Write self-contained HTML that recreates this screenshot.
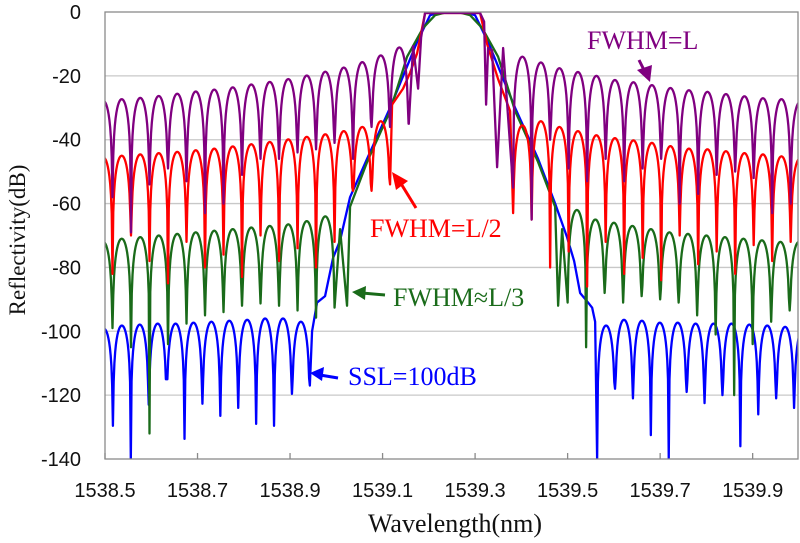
<!DOCTYPE html>
<html><head><meta charset="utf-8">
<style>
html,body{margin:0;padding:0;background:#fff;}
svg{display:block;}
.tick{font-family:"Liberation Sans",sans-serif;font-size:20px;fill:#111;}
.ann{font-family:"Liberation Serif",serif;font-size:26px;}
.ttl{font-family:"Liberation Serif",serif;}
</style></head>
<body>
<svg id="chart" width="800" height="543" viewBox="0 0 800 543" xmlns="http://www.w3.org/2000/svg">
<defs><clipPath id="plotclip"><rect x="105" y="12" width="693" height="447"/></clipPath></defs>
<g id="grid"></g>
<g id="series" clip-path="url(#plotclip)"></g>
<rect x="105" y="12" width="693" height="447" fill="none" stroke="#8a8a8a" stroke-width="1.3"/>
<g id="axes"></g>
<text class="ttl" font-size="23" x="0" y="0" transform="translate(25,240) rotate(-90)" text-anchor="middle" fill="#111">Reflectivity(dB)</text>
<text class="ttl" font-size="26" x="455" y="532" text-anchor="middle" fill="#111">Wavelength(nm)</text>

<g>
<text class="ann" x="587" y="49" fill="#800080">FWHM=L</text>
<line x1="639" y1="60" x2="645" y2="72" stroke="#800080" stroke-width="3"/>
<polygon points="637,70 652,65 650,82" fill="#800080"/>
</g>
<g>
<text class="ann" x="370" y="237" fill="#ff0000">FWHM=L/2</text>
<line x1="416" y1="208" x2="400" y2="182" stroke="#ff0000" stroke-width="3"/>
<polygon points="392,172 396,190 408,181" fill="#ff0000"/>
</g>
<g>
<text class="ann" x="393" y="306" fill="#1a6b1a">FWHM≈L/3</text>
<line x1="385" y1="295" x2="362" y2="293" stroke="#1a6b1a" stroke-width="3"/>
<polygon points="352,292 366,286 365,300" fill="#1a6b1a"/>
</g>
<g>
<text class="ann" x="348" y="385" fill="#0000ff">SSL=100dB</text>
<line x1="338" y1="378" x2="320" y2="375" stroke="#0000ff" stroke-width="3"/>
<polygon points="310,373 324,367 322,381" fill="#0000ff"/>
</g>
</svg>
<script>
// axis domains
const xMin = 1538.5, xMax = 1539.998;
const yMin = -140, yMax = 0;
const xTickLabels = ["1538.5","1538.7","1538.9","1539.1","1539.3","1539.5","1539.7","1539.9"];
const yTickLabels = [0,-20,-40,-60,-80,-100,-120,-140];

// FWHM=L (purple)
const purpleLeftStart = 1538.4762, purplePeriod = 0.04;
const purpleLeftPeaks = [-27.8,-27.3,-26.9,-26.3,-25.6,-24.9,-24.3,-23.6,-22.7,-21.9,-21,-19.9,-18.7,-17.4,-15.7,-13.6,-11.1];
const purpleLeftNulls = [-60,-58,-69,-54,-49,-53,-63,-60,-51,-46,-46,-44,-43,-41,-46,-36,-36,-35];
const purpleMainWl = [1539.1567,1539.166,1539.1768,1539.1833,1539.1919,1539.3108,1539.3195,1539.3238,1539.3281,1539.3368,1539.3476,1539.3606,1539.3822];
const purpleMainDb = [-35,-10.7,-24,-8,-0.3,-0.3,-3,-29,-11.3,-12,-48.6,-11.3,-55];
const purpleRightStart = 1539.3822;
const purpleRightPeaks = [-14,-15.8,-17.6,-18.8,-20,-21.3,-22,-22.9,-23.8,-24.5,-25,-25.7,-26.4,-27,-27.3,-28.2];
const purpleRightNulls = [-55,-65,-40,-49,-53,-46,-53,-49,-46,-60,-57,-51,-50,-52,-63,-60,-55];

// FWHM=L/2 (red)
const redLeftStart = 1538.4762, redPeriod = 0.04;
const redLeftPeaks = [-45.5,-45,-44.6,-44.2,-43.8,-43.3,-42.8,-42.1,-41.4,-40.7,-39.9,-39.1,-38.3,-37.3,-36,-34.2];
const redLeftNulls = [-75,-82,-70,-78,-85,-72,-80,-76,-83,-70,-78,-74,-80,-72,-56,-56,-54];
const redMainWl = [1539.1162,1539.1206,1539.1443,1539.1595,1539.1746,1539.1919,1539.3108,1539.3259,1539.3497,1539.3757,1539.3822];
const redMainDb = [-54,-29,-24,-19,-13,-0.3,-0.3,-10,-21,-31,-63];
const redRightStart = 1539.3822;
const redRightPeaks = [-35.5,-34.2,-36,-37.3,-38.6,-39.5,-40.2,-41,-42,-42.8,-43,-43.6,-44.2,-44.6,-45.2,-45.9];
const redRightNulls = [-63,-65,-80,-75,-86,-72,-82,-77,-84,-70,-79,-75,-82,-73,-78,-72,-80];

// FWHM≈L/3 (green)
const greenLeftStart = 1538.4762, greenPeriod = 0.04;
const greenLeftPeaks = [-72,-71,-70.5,-70,-69.5,-69,-68.5,-68,-67.5,-67,-66.5,-65.5,-64];
const greenLeftNulls = [-95.7,-99,-105,-132,-104,-97.6,-95,-94,-92,-91.3,-92,-93.5,-95.7,-92.6];
const greenMainWl = [1538.9962,1539.0081,1539.0232,1539.0297,1539.0665,1539.1162,1539.153,1539.1876,1539.2135,1539.2351,1539.2676,1539.2892,1539.3151,1539.3497,1539.3865,1539.4362,1539.473,1539.4795,1539.4881,1539.5];
const greenMainDb = [-92.6,-68,-92,-61,-47,-31,-14,-5,-1,-0.2,-0.2,-1,-5,-14,-31,-47,-61,-92,-68,-91];
const greenRightStart = 1539.5;
const greenRightPeaks = [-62,-65,-66,-67,-68,-69,-69.5,-70,-70.5,-71,-71.5,-72,-72];
const greenRightNulls = [-91,-105,-88,-91,-89,-90,-91,-95,-101,-120,-104,-97,-93.5,-95];

// SSL=100dB (blue)
const blueLeftStart = 1538.4784, bluePeriod = 0.0387;
const blueLeftPeaks = [-99.2,-98.2,-97.9,-97.6,-97.6,-97.3,-97,-96.7,-96.4,-96,-96,-97];
const blueLeftNulls = [-120,-129.6,-140.6,-123,-115,-133.7,-122.7,-126.5,-124,-129,-129.6,-119.6,-117];
const blueMainWl = [1538.9428,1538.9476,1538.9584,1538.9757,1538.993,1539.0081,1539.0297,1539.0665,1539.1162,1539.1746,1539.2027,1539.2243,1539.2784,1539.3,1539.3281,1539.3865,1539.4362,1539.473,1539.4989,1539.5141,1539.527,1539.5443,1539.553,1539.5595,1539.5638];
const blueMainDb = [-117,-100,-91,-89,-77,-71.6,-58,-46,-30,-9.4,-1,-0.2,-0.2,-1,-9.4,-30,-46,-60,-70.6,-78,-88,-91,-92.6,-97,-140];
const blueRightStart = 1539.5638;
const blueRightPeaks = [-98.2,-96.4,-96.7,-97.3,-97.3,-97.6,-97.6,-97.6,-97.9,-98.2,-98.6,-99.2];
const blueRightNulls = [-140,-118,-121,-132.5,-140,-119,-122.5,-120,-136,-126,-121,-124,-122];

const PL = 105, PR = 798, PT = 12, PB = 459;
function xs(w){ return PL + (w - xMin) / (xMax - xMin) * (PR - PL); }
function ys(d){ return PT + (yMax - d) / (yMax - yMin) * (PB - PT); }
const NS = 'http://www.w3.org/2000/svg';

function lobes(start, period, peaks, nulls, pts){
  for (let i = 0; i < peaks.length; i++){
    const a = start + i * period;
    const n = 24;
    for (let j = 0; j <= n; j++){
      const t = j / n;
      const nl = t < 0.5 ? nulls[i] : nulls[i + 1];
      const s = Math.sin(Math.PI * t);
      let v = s > 1e-9 ? peaks[i] + 20 * Math.log10(s) : nl;
      if (v < nl) v = nl;
      pts.push([a + t * period, v]);
    }
  }
}
function buildSeries(ls, period, lp, ln, mw, md, rs, rp, rn){
  const pts = [];
  lobes(ls, period, lp, ln, pts);
  for (let i = 0; i < mw.length; i++) pts.push([mw[i], md[i]]);
  lobes(rs, period, rp, rn, pts);
  return pts;
}
const seriesDefs = [
  ['series-ssl-100db', '#0000ff', buildSeries(blueLeftStart, bluePeriod, blueLeftPeaks, blueLeftNulls, blueMainWl, blueMainDb, blueRightStart, blueRightPeaks, blueRightNulls)],
  ['series-fwhm-l3', '#1a6b1a', buildSeries(greenLeftStart, greenPeriod, greenLeftPeaks, greenLeftNulls, greenMainWl, greenMainDb, greenRightStart, greenRightPeaks, greenRightNulls)],
  ['series-fwhm-l2', '#ff0000', buildSeries(redLeftStart, redPeriod, redLeftPeaks, redLeftNulls, redMainWl, redMainDb, redRightStart, redRightPeaks, redRightNulls)],
  ['series-fwhm-l', '#800080', buildSeries(purpleLeftStart, purplePeriod, purpleLeftPeaks, purpleLeftNulls, purpleMainWl, purpleMainDb, purpleRightStart, purpleRightPeaks, purpleRightNulls)]
];

const grid = document.getElementById('grid');
const axes = document.getElementById('axes');
yTickLabels.forEach(function(v){
  const y = ys(v);
  if (v !== 0 && v !== -140){
    const l = document.createElementNS(NS, 'line');
    
    
    l.setAttribute('x1', PL); l.setAttribute('x2', PR);
    l.setAttribute('y1', y); l.setAttribute('y2', y);
    l.setAttribute('stroke', '#c8c8c8'); l.setAttribute('stroke-width', '1.3');
    grid.appendChild(l);
  }
  const t = document.createElementNS(NS, 'text');
  
  
  t.setAttribute('x', 81); t.setAttribute('y', y + 7);
  t.setAttribute('text-anchor', 'end'); t.setAttribute('class', 'tick');
  t.textContent = String(v);
  axes.appendChild(t);
});
xTickLabels.forEach(function(lbl){
  const x = xs(parseFloat(lbl));
  const tk = document.createElementNS(NS, 'line');
  
  
  tk.setAttribute('x1', x); tk.setAttribute('x2', x);
  tk.setAttribute('y1', PB); tk.setAttribute('y2', PB - 6);
  tk.setAttribute('stroke', '#8a8a8a'); tk.setAttribute('stroke-width', '1.3');
  axes.appendChild(tk);
  const t = document.createElementNS(NS, 'text');
  
  
  t.setAttribute('x', x); t.setAttribute('y', 497);
  t.setAttribute('text-anchor', 'middle'); t.setAttribute('class', 'tick');
  t.textContent = lbl;
  axes.appendChild(t);
});
const sg = document.getElementById('series');
seriesDefs.forEach(function(s){
  const p = document.createElementNS(NS, 'path');
  
  
  let d = '';
  s[2].forEach(function(pt, i){ d += (i ? 'L' : 'M') + xs(pt[0]).toFixed(2) + ' ' + ys(pt[1]).toFixed(2); });
  p.setAttribute('d', d);
  p.setAttribute('fill', 'none');
  p.setAttribute('stroke', s[1]);
  p.setAttribute('stroke-width', '2.3');
  p.setAttribute('stroke-linejoin', 'round');
  sg.appendChild(p);
});
</script>
</body></html>
